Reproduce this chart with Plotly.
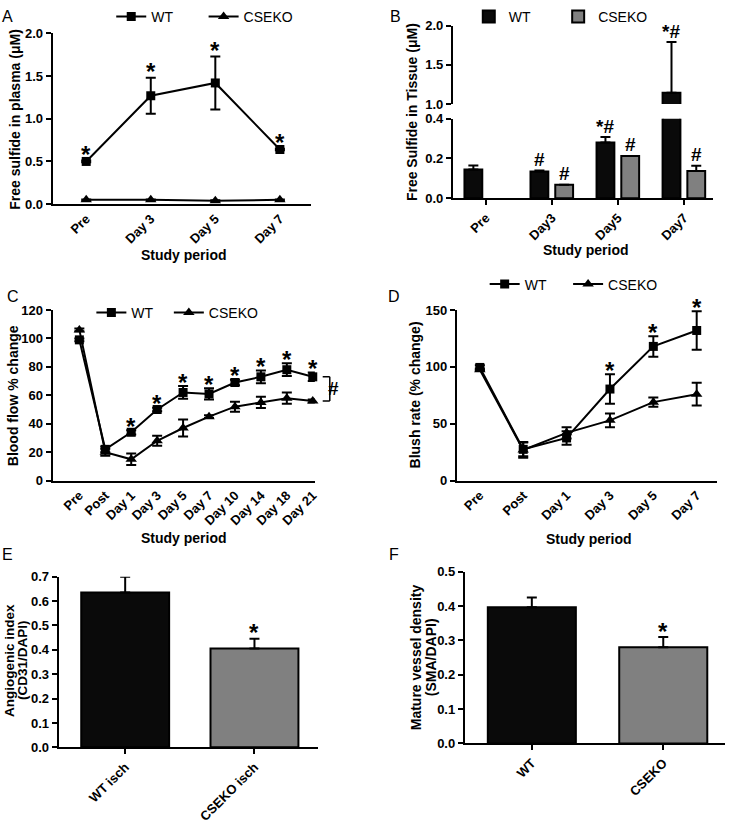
import plotly.graph_objects as go

W, H = 733, 824
FONT = "Liberation Sans, Arial, sans-serif"

# A: free sulfide in plasma
days_a = ["Pre", "Day 3", "Day 5", "Day 7"]
wt_a = [0.50, 1.27, 1.42, 0.64]
wt_a_err = [0.01, 0.21, 0.31, 0.01]
ko_a = [0.05, 0.05, 0.04, 0.05]
ko_a_err = [0.005, 0.005, 0.005, 0.005]
stars_a = [0, 1, 2, 3]

# B: free sulfide in tissue (broken axis)
days_b = ["Pre", "Day3", "Day5", "Day7"]
wt_b = [0.145, 0.135, 0.28, 1.145]
wt_b_err = [0.02, 0.005, 0.028, 0.645]
ko_b = [None, 0.068, 0.213, 0.137]
ko_b_err = [0, 0.0, 0.0, 0.027]
marks_wt_b = ["", "#", "*#", "*#"]
marks_ko_b = ["", "#", "#", "#"]

# C: blood flow
days_c = ["Pre", "Post", "Day 1", "Day 3", "Day 5", "Day 7", "Day 10", "Day 14", "Day 18", "Day 21"]
wt_c = [99, 22, 34, 50, 62, 61, 69, 73, 78, 73]
wt_c_err = [1, 2, 1.5, 1.2, 4.5, 4, 2, 4.5, 4.5, 3]
ko_c = [106, 20, 15, 28, 37, 45, 52, 55, 58, 56]
ko_c_err = [1, 2.5, 4, 3.5, 6, 1, 3.5, 4, 4, 1]
stars_c = [2, 3, 4, 5, 6, 7, 8, 9]

# D: blush rate
days_d = ["Pre", "Post", "Day 1", "Day 3", "Day 5", "Day 7"]
wt_d = [99.5, 27.5, 37.5, 80.5, 118, 132]
wt_d_err = [2, 6, 6, 13, 9, 17]
ko_d = [97.5, 27, 42, 53, 69, 76]
ko_d_err = [1, 7, 5, 6, 4, 10]
stars_d = [3, 4, 5]

# E / F
groups_e = ["WT isch", "CSEKO isch"]
vals_e = [0.635, 0.405]
errs_e = [0.065, 0.04]
groups_f = ["WT", "CSEKO"]
vals_f = [0.397, 0.28]
errs_f = [0.028, 0.03]

BLACK = "#0a0a0a"
GREY = "#808080"


def xd(a, b):
    return [a / W, b / W]


def yd(top, bottom):
    return [1 - bottom / H, 1 - top / H]


def err(arr, sym=True):
    d = dict(type="data", array=arr, color="black", thickness=2, width=5)
    if not sym:
        d["symmetric"] = False
        d["arrayminus"] = [0] * len(arr)
    return d


fig = go.Figure()


def line_pair(xa, ya, cats, wt, wte, ko, koe, legs):
    fig.add_trace(go.Scatter(x=cats, y=wt, error_y=err(wte), name="WT", mode="lines+markers",
                             line=dict(color="black", width=2),
                             marker=dict(symbol="square", size=9, color="black"),
                             xaxis=xa, yaxis=ya, legend=legs[0], cliponaxis=False))
    fig.add_trace(go.Scatter(x=cats, y=ko, error_y=err(koe), name="CSEKO", mode="lines+markers",
                             line=dict(color="black", width=2),
                             marker=dict(symbol="triangle-up", size=10, color="black"),
                             xaxis=xa, yaxis=ya, legend=legs[1], cliponaxis=False))


line_pair("x", "y", days_a, wt_a, wt_a_err, ko_a, ko_a_err, ("legend", "legend2"))
line_pair("x3", "y4", days_c, wt_c, wt_c_err, ko_c, ko_c_err, ("legend5", "legend6"))
line_pair("x4", "y5", days_d, wt_d, wt_d_err, ko_d, ko_d_err, ("legend7", "legend8"))

# B bars, drawn on the lower and upper segment of the broken axis
for ya, show in (("y2", True), ("y3", False)):
    fig.add_trace(go.Bar(x=days_b, y=wt_b, error_y=err(wt_b_err, False), name="WT",
                         marker=dict(color=BLACK, line=dict(color="black", width=2)),
                         width=0.27, offset=-0.325, xaxis="x2", yaxis=ya,
                         legend="legend3", showlegend=show))
    fig.add_trace(go.Bar(x=days_b, y=ko_b, error_y=err(ko_b_err, False), name="CSEKO",
                         marker=dict(color=GREY, line=dict(color="black", width=2)),
                         width=0.27, offset=0.05, xaxis="x2", yaxis=ya,
                         legend="legend4", showlegend=show))

fig.add_trace(go.Bar(x=groups_e, y=vals_e, error_y=err(errs_e, False), width=0.68,
                     marker=dict(color=[BLACK, GREY], line=dict(color="black", width=2)),
                     xaxis="x5", yaxis="y6", showlegend=False))
fig.add_trace(go.Bar(x=groups_f, y=vals_f, error_y=err(errs_f, False), width=0.67,
                     marker=dict(color=[BLACK, GREY], line=dict(color="black", width=2)),
                     xaxis="x6", yaxis="y7", showlegend=False))

tickfont = dict(family=FONT, size=13, color="black", weight="bold")
base = dict(showline=True, linewidth=2, linecolor="black", showgrid=False, zeroline=False,
            tickfont=tickfont, fixedrange=True)
xcat = dict(base, type="category", tickangle=-45)
ytk = dict(base, ticks="outside", ticklen=5, tickwidth=2, tickcolor="black")
xtk = dict(xcat, ticks="outside", ticklen=5, tickwidth=2, tickcolor="black")

fig.update_layout(
    width=W, height=H, autosize=False,
    margin=dict(l=0, r=0, t=0, b=0),
    paper_bgcolor="white", plot_bgcolor="white",
    font=dict(family=FONT, color="black"),
    xaxis=dict(xcat, domain=xd(53, 313), anchor="y", range=[-0.52, 3.48], ticks=""),
    yaxis=dict(ytk, domain=yd(27, 201), anchor="x", range=[0, 2], dtick=0.5, tickformat=".1f"),
    xaxis2=dict(xtk, domain=xd(456, 718), anchor="y2", range=[-0.5, 3.44]),
    yaxis2=dict(ytk, domain=yd(114, 195), anchor="x2", range=[0, 0.4], dtick=0.2, tickformat=".1f"),
    yaxis3=dict(ytk, domain=yd(19, 99), anchor="x2", range=[1, 2], dtick=0.5, tickformat=".1f"),
    xaxis3=dict(xcat, domain=xd(53, 317), anchor="y4", range=[-1.03, 9.08], ticks=""),
    yaxis4=dict(ytk, domain=yd(309, 483), anchor="x3", range=[0, 120], dtick=20),
    xaxis4=dict(xcat, domain=xd(460, 722), anchor="y5", range=[-0.53, 5.47], ticks=""),
    yaxis5=dict(ytk, domain=yd(309, 483), anchor="x4", range=[0, 150], dtick=50),
    xaxis5=dict(xtk, domain=xd(59, 320), anchor="y6", range=[-0.515, 1.49]),
    yaxis6=dict(ytk, domain=yd(581, 755), anchor="x5", range=[0, 0.7], dtick=0.1, tickformat=".1f"),
    xaxis6=dict(xtk, domain=xd(468, 730), anchor="y7", range=[-0.51, 1.47]),
    yaxis7=dict(ytk, domain=yd(576, 751), anchor="x6", range=[0, 0.5], dtick=0.1, tickformat=".1f"),
)

# one legend per entry so each entry can sit where the original has it
leg = dict(orientation="h", xanchor="left", yanchor="middle", bgcolor="rgba(0,0,0,0)",
           font=dict(family=FONT, size=14, color="black"), itemwidth=30)
legend_pos = {
    "legend": (112, 10), "legend2": (205, 10),
    "legend3": (472, 10), "legend4": (562, 10),
    "legend5": (92, 312), "legend6": (170, 312),
    "legend7": (488, 283), "legend8": (572, 283),
}
fig.update_layout({k: dict(leg, x=px / W, y=1 - py / H) for k, (px, py) in legend_pos.items()})

ann = []


def txt(x, y, s, size=14, bold=True, angle=0):
    ann.append(dict(x=x / W, y=1 - y / H, xref="paper", yref="paper", text=s, showarrow=False,
                    textangle=angle, xanchor="center", yanchor="middle",
                    font=dict(family=FONT, size=size, color="black",
                              weight="bold" if bold else "normal")))


# panel letters
for s, x, y in (("A", 8, 10), ("B", 398, 10), ("C", 13, 295), ("D", 397, 295), ("E", 8, 558), ("F", 397, 558)):
    txt(x, y, s, size=16, bold=False)

# axis titles
txt(15, 114, "Free sulfide in plasma (μM)", angle=-90)
txt(415, 107, "Free Sulfide in Tissue (μM)", angle=-90)
txt(13, 396, "Blood flow % change", angle=-90)
txt(418, 396, "Blush rate (% change)", angle=-90)
txt(9, 666, "Angiogenic index", size=13.5, angle=-90)
txt(22, 666, "(CD31/DAPI)", size=13.5, angle=-90)
txt(419, 663, "Mature vessel density", angle=-90)
txt(434, 663, "(SMA/DAPI)", angle=-90)
for x, y in ((185, 253), (590, 248), (185, 542), (593, 543)):
    txt(x, y, "Study period")


def mark(xa, ya, x, y, s, size=24, shift=5):
    ann.append(dict(x=x, y=y, xref=xa, yref=ya, text=s, showarrow=False, yanchor="middle",
                    yshift=shift, font=dict(family=FONT, size=size, color="black", weight="bold")))


for i in stars_a:
    mark("x", "y", i, wt_a[i] + wt_a_err[i], "*", shift=6)
for i in stars_c:
    mark("x3", "y4", i, wt_c[i] + wt_c_err[i], "*", shift=4)
for i in stars_d:
    mark("x4", "y5", i, wt_d[i] + wt_d_err[i], "*", shift=4)
mark("x5", "y6", 1, vals_e[1] + errs_e[1], "*", shift=6)
mark("x6", "y7", 1, vals_f[1] + errs_f[1], "*", shift=6)
for i in range(len(days_b)):
    ywt = wt_b[i] + wt_b_err[i]
    if marks_wt_b[i]:
        mark("x2", "y3" if ywt > 1 else "y2", i - 0.19, ywt, marks_wt_b[i], size=19, shift=11)
    if marks_ko_b[i]:
        mark("x2", "y2", i + 0.185, ko_b[i] + ko_b_err[i], marks_ko_b[i], size=19, shift=11)

# bracket between the two curves at the last time point in C
top, bot = wt_c[-1], ko_c[-1]
shapes = [
    dict(type="line", xref="x3 domain", yref="y4", x0=1.03, x1=1.057, y0=top, y1=top),
    dict(type="line", xref="x3 domain", yref="y4", x0=1.057, x1=1.057, y0=top, y1=bot),
    dict(type="line", xref="x3 domain", yref="y4", x0=1.03, x1=1.057, y0=bot, y1=bot),
]
for s in shapes:
    s["line"] = dict(color="black", width=1.5)
ann.append(dict(x=1.1, y=(top + bot) / 2, xref="x3 domain", yref="y4", text="#", showarrow=False,
                font=dict(family=FONT, size=19, color="black", weight="bold")))

fig.update_layout(annotations=ann, shapes=shapes)
fig.write_html("out.html", config={"displayModeBar": False},
               post_script="document.body.style.margin='0';")
